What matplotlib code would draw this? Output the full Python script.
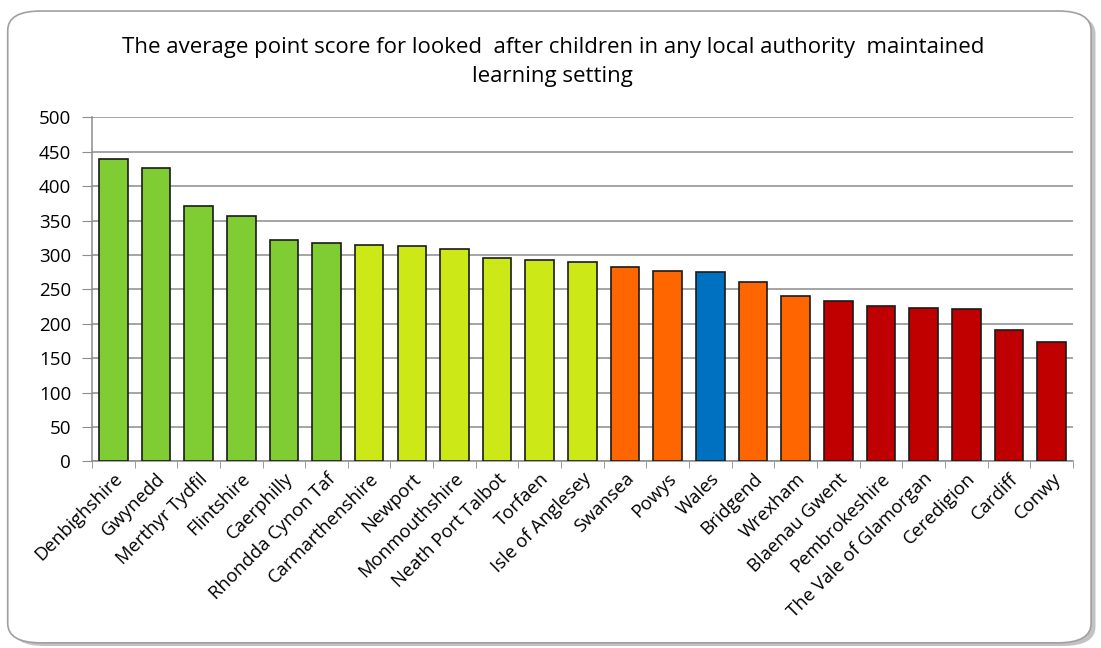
import matplotlib
matplotlib.use("Agg")
import matplotlib.pyplot as plt
from matplotlib.patches import FancyBboxPatch
import numpy as np

plt.rcParams['font.family'] = ['Open Sans', 'DejaVu Sans']

# data
areas = ['Denbighshire', 'Gwynedd', 'Merthyr Tydfil', 'Flintshire', 'Caerphilly',
         'Rhondda Cynon Taf', 'Carmarthenshire', 'Newport', 'Monmouthshire',
         'Neath Port Talbot', 'Torfaen', 'Isle of Anglesey', 'Swansea', 'Powys',
         'Wales', 'Bridgend', 'Wrexham', 'Blaenau Gwent', 'Pembrokeshire',
         'The Vale of Glamorgan', 'Ceredigion', 'Cardiff', 'Conwy']
scores = [439, 427, 371, 357, 322, 317, 315, 313, 308, 296, 293, 289, 282,
          277, 275, 261, 240, 233, 226, 223, 221, 191, 174]
groups = ['top'] * 6 + ['upper'] * 6 + ['lower'] * 2 + ['wales'] + ['lower'] * 2 + ['bottom'] * 6

group_colours = {'top': '#7fcc33', 'upper': '#cce817', 'lower': '#ff6600',
                 'wales': '#0070c0', 'bottom': '#c00000'}

fig = plt.figure(figsize=(11.01, 6.48), dpi=100)

# rounded chart frame with a soft shadow
shadow = FancyBboxPatch((0.011, 0.003), 0.984, 0.975, boxstyle="round,pad=0,rounding_size=0.03",
                        transform=fig.transFigure, facecolor='#9a9a9a', edgecolor='none',
                        zorder=0, alpha=0.6)
frame = FancyBboxPatch((0.007, 0.008), 0.984, 0.975, boxstyle="round,pad=0,rounding_size=0.03",
                       transform=fig.transFigure, facecolor='white', edgecolor='#a0a0a0',
                       linewidth=1.2, zorder=1)
fig.patches.extend([shadow, frame])

ax = fig.add_axes([0.0835, 0.288, 0.891, 0.531])
ax.set_zorder(2)
ax.patch.set_alpha(0)

x = np.arange(len(areas))
colours = [group_colours[g] for g in groups]
ax.bar(x, scores, width=0.67, color=colours, edgecolor='#1a1a1a', linewidth=1.2, zorder=3)

ax.set_xlim(-0.5, len(areas) - 0.5)
ax.set_ylim(0, 500)
ax.set_yticks(np.arange(0, 501, 50))
ax.yaxis.grid(True, color='#8c8c8c', linewidth=1.1, zorder=0)
ax.set_axisbelow(True)

ax.set_xticks(x)
ax.set_xticklabels(areas, rotation=45, ha='right', rotation_mode='anchor', fontsize=13.3)
ax.set_xticks(np.arange(-0.5, len(areas)), minor=True)
ax.tick_params(axis='x', which='major', length=0, pad=6)
ax.tick_params(axis='x', which='minor', length=5, color='#8c8c8c', direction='out')
ax.tick_params(axis='y', length=7, color='#8c8c8c', labelsize=13.5, pad=8)

for side in ['top', 'right']:
    ax.spines[side].set_visible(False)
for side in ['left', 'bottom']:
    ax.spines[side].set_color('#8c8c8c')
    ax.spines[side].set_linewidth(1.1)

fig.text(0.502, 0.905, 'The average point score for looked  after children in any local authority  maintained\nlearning setting',
         ha='center', va='center', fontsize=16, linespacing=1.5, zorder=3)

fig.savefig('out.png', dpi=100)
